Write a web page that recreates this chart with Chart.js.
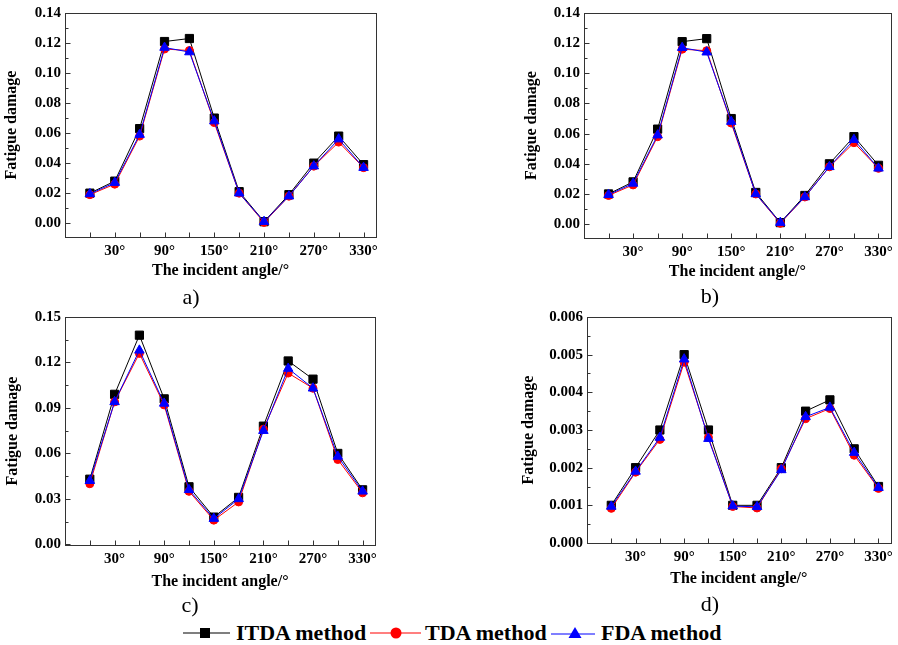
<!DOCTYPE html>
<html>
<head>
<meta charset="utf-8">
<script src="https://cdn.jsdelivr.net/npm/chart.js"></script>
<style>
  body { margin: 0; background: #fff; }
  #wrap { position: relative; width: 898px; height: 645px; overflow: hidden; font-family: "Liberation Serif", "Times New Roman", serif; }
  canvas { position: absolute; }
  .tag { position: absolute; font-size: 22px; transform: translate(-50%, -50%); }
  .item { position: absolute; top: 620px; height: 26px; display: flex; align-items: center; font-weight: bold; font-size: 22px; }
</style>
</head>
<body>
<div id="wrap">
  <canvas id="ca" width="449" height="290" style="left:0;top:0"></canvas>
  <canvas id="cb" width="449" height="290" style="left:449px;top:0"></canvas>
  <canvas id="cc" width="449" height="320" style="left:0;top:290px"></canvas>
  <canvas id="cd" width="449" height="320" style="left:449px;top:290px"></canvas>
  <div class="tag" style="left:191px;top:297px">a)</div>
  <div class="tag" style="left:710px;top:296px">b)</div>
  <div class="tag" style="left:190px;top:605px">c)</div>
  <div class="tag" style="left:710px;top:604px">d)</div>

  <div class="item" style="left:183px">
    <svg width="47" height="14" style="margin-right:6px"><line x1="0" y1="7" x2="47" y2="7" stroke="#000" stroke-width="1.2"/><rect x="17" y="2" width="10" height="10" fill="#000"/></svg>ITDA method
  </div>
  <div class="item" style="left:370px">
    <svg width="51" height="14" style="margin-right:4px"><line x1="0" y1="7" x2="51" y2="7" stroke="#f00" stroke-width="1.2"/><circle cx="26" cy="7" r="5.5" fill="#f00"/></svg>TDA method
  </div>
  <div class="item" style="left:551px">
    <svg width="44" height="14" style="margin-right:6px"><line x1="0" y1="8" x2="44" y2="8" stroke="#00f" stroke-width="1.2"/><polygon points="24,1 30.5,12 17.5,12" fill="#00f"/></svg>FDA method
  </div>
</div>
<script>
// incident angles (deg)
const angles = [0, 30, 60, 90, 120, 150, 180, 210, 240, 270, 300, 330];
const xLabels = [30, 90, 150, 210, 270, 330];

// panel a) and b)
const itdaA = [0.020, 0.028, 0.063, 0.121, 0.123, 0.070, 0.021, 0.001, 0.019, 0.040, 0.058, 0.039];
const tdaA  = [0.019, 0.026, 0.058, 0.116, 0.115, 0.067, 0.020, 0.0005, 0.018, 0.038, 0.054, 0.037];
const fdaA  = [0.0195, 0.027, 0.059, 0.117, 0.114, 0.068, 0.020, 0.001, 0.018, 0.038, 0.056, 0.037];
const itdaB = [0.020, 0.028, 0.063, 0.121, 0.123, 0.070, 0.021, 0.001, 0.019, 0.040, 0.058, 0.039];
const tdaB  = [0.019, 0.026, 0.058, 0.116, 0.115, 0.067, 0.020, 0.0005, 0.018, 0.038, 0.054, 0.037];
const fdaB  = [0.0195, 0.027, 0.059, 0.117, 0.114, 0.068, 0.020, 0.001, 0.018, 0.038, 0.056, 0.037];
// panel c)
const itdaC = [0.043, 0.099, 0.138, 0.096, 0.038, 0.018, 0.031, 0.078, 0.121, 0.109, 0.060, 0.036];
const tdaC  = [0.040, 0.094, 0.126, 0.092, 0.035, 0.016, 0.028, 0.076, 0.113, 0.103, 0.056, 0.034];
const fdaC  = [0.042, 0.094, 0.128, 0.093, 0.036, 0.017, 0.030, 0.075, 0.116, 0.103, 0.058, 0.035];
// panel d)
const itdaD = [0.0010, 0.0020, 0.0030, 0.0050, 0.0030, 0.0010, 0.0010, 0.0020, 0.0035, 0.0038, 0.0025, 0.0015];
const tdaD  = [0.00092, 0.00188, 0.00275, 0.0048, 0.0028, 0.00097, 0.00093, 0.00197, 0.0033, 0.00357, 0.00233, 0.00145];
const fdaD  = [0.00097, 0.0019, 0.0028, 0.00488, 0.00277, 0.00098, 0.00096, 0.00194, 0.00335, 0.0036, 0.0024, 0.00147];

// y tick labels
const yLabelsAB = ['0.00', '0.02', '0.04', '0.06', '0.08', '0.10', '0.12', '0.14'];
const yLabelsC  = ['0.00', '0.03', '0.06', '0.09', '0.12', '0.15'];
const yLabelsD  = ['0.000', '0.001', '0.002', '0.003', '0.004', '0.005', '0.006'];

const serif = '"Liberation Serif", "Times New Roman", serif';

// box round the plot + inward ticks, like the origin plot
const frameTicks = {
  id: 'frameTicks',
  afterDraw(chart) {
    const { ctx, chartArea: a, scales: { x, y } } = chart;
    const L = Math.round(a.left) + 0.5, R = Math.round(a.right) + 0.5;
    const T = Math.round(a.top) + 0.5, B = Math.round(a.bottom) + 0.5;
    ctx.save();
    ctx.strokeStyle = '#333';
    ctx.lineWidth = 1;
    ctx.strokeRect(L, T, R - L, B - T);
    ctx.beginPath();
    x.ticks.forEach(t => {
      const px = Math.round(x.getPixelForValue(t.value)) + 0.5;
      ctx.moveTo(px, B); ctx.lineTo(px, B - 5);
    });
    y.ticks.forEach((t, i) => {
      const py = Math.round(y.getPixelForValue(t.value)) + 0.5;
      ctx.moveTo(L, py); ctx.lineTo(L + 5, py);
      if (i < y.ticks.length - 1) {
        const pm = Math.round(y.getPixelForValue((t.value + y.ticks[i + 1].value) / 2)) + 0.5;
        ctx.moveTo(L, pm); ctx.lineTo(L + 3, pm);
      }
    });
    ctx.stroke();
    ctx.restore();
  }
};

function series(label, vals, color, style, radius, order) {
  return {
    label: label,
    data: angles.map((a, i) => ({ x: a, y: vals[i] })),
    borderColor: color,
    backgroundColor: color,
    borderWidth: 1,
    pointStyle: style,
    pointRadius: radius,
    pointBorderWidth: 1,
    order: order
  };
}

function makeChart(id, itda, tda, fda, yLabels, yMin, yMax, pad, yWidth, xHeight) {
  const yVals = yLabels.map(parseFloat);
  new Chart(document.getElementById(id), {
    type: 'line',
    data: {
      datasets: [
        series('ITDA method', itda, '#000000', 'rect', 5.8, 3),
        series('TDA method', tda, '#ff0000', 'circle', 4, 2),
        series('FDA method', fda, '#0000ff', 'triangle', 5.5, 1)
      ]
    },
    plugins: [frameTicks],
    options: {
      responsive: false,
      animation: false,
      devicePixelRatio: 1,
      layout: { padding: pad },
      plugins: { legend: { display: false }, tooltip: { enabled: false } },
      scales: {
        x: {
          type: 'linear',
          min: -30,
          max: 345,
          afterBuildTicks: s => { s.ticks = angles.map(v => ({ value: v })); },
          afterFit: s => { s.height = xHeight; },
          grid: { display: false, drawTicks: false },
          border: { display: false },
          ticks: {
            autoSkip: false,
            maxRotation: 0,
            padding: 5,
            color: '#000',
            font: { family: serif, size: 15, weight: 'bold' },
            callback: v => xLabels.includes(v) ? v + '°' : ''
          },
          title: {
            display: true,
            text: 'The incident angle/°',
            color: '#000',
            padding: 0,
            font: { family: serif, size: 16, weight: 'bold' }
          }
        },
        y: {
          min: yMin,
          max: yMax,
          afterBuildTicks: s => { s.ticks = yVals.map(v => ({ value: v })); },
          afterFit: s => { s.width = yWidth; },
          grid: { display: false, drawTicks: false },
          border: { display: false },
          ticks: {
            padding: 4,
            color: '#000',
            font: { family: serif, size: 15, weight: 'bold' },
            callback: (v, i) => yLabels[i]
          },
          title: {
            display: true,
            text: 'Fatigue damage',
            color: '#000',
            padding: 0,
            font: { family: serif, size: 16, weight: 'bold' }
          }
        }
      }
    }
  });
}

makeChart('ca', itdaA, tdaA, fdaA, yLabelsAB, -0.0092, 0.14, { left: 2, right: 73, top: 10, bottom: 10 }, 63, 43);
makeChart('cb', itdaB, tdaB, fdaB, yLabelsAB, -0.0092, 0.14, { left: 73, right: 4, top: 11, bottom: 9 }, 62, 43);
makeChart('cc', itdaC, tdaC, fdaC, yLabelsC, -0.0004, 0.15, { left: 3, right: 74, top: 27, bottom: 19 }, 62, 46);
makeChart('cd', itdaD, tdaD, fdaD, yLabelsD, 0, 0.006, { left: 70, right: 2, top: 27, bottom: 22 }, 68, 45);
</script>
</body>
</html>
